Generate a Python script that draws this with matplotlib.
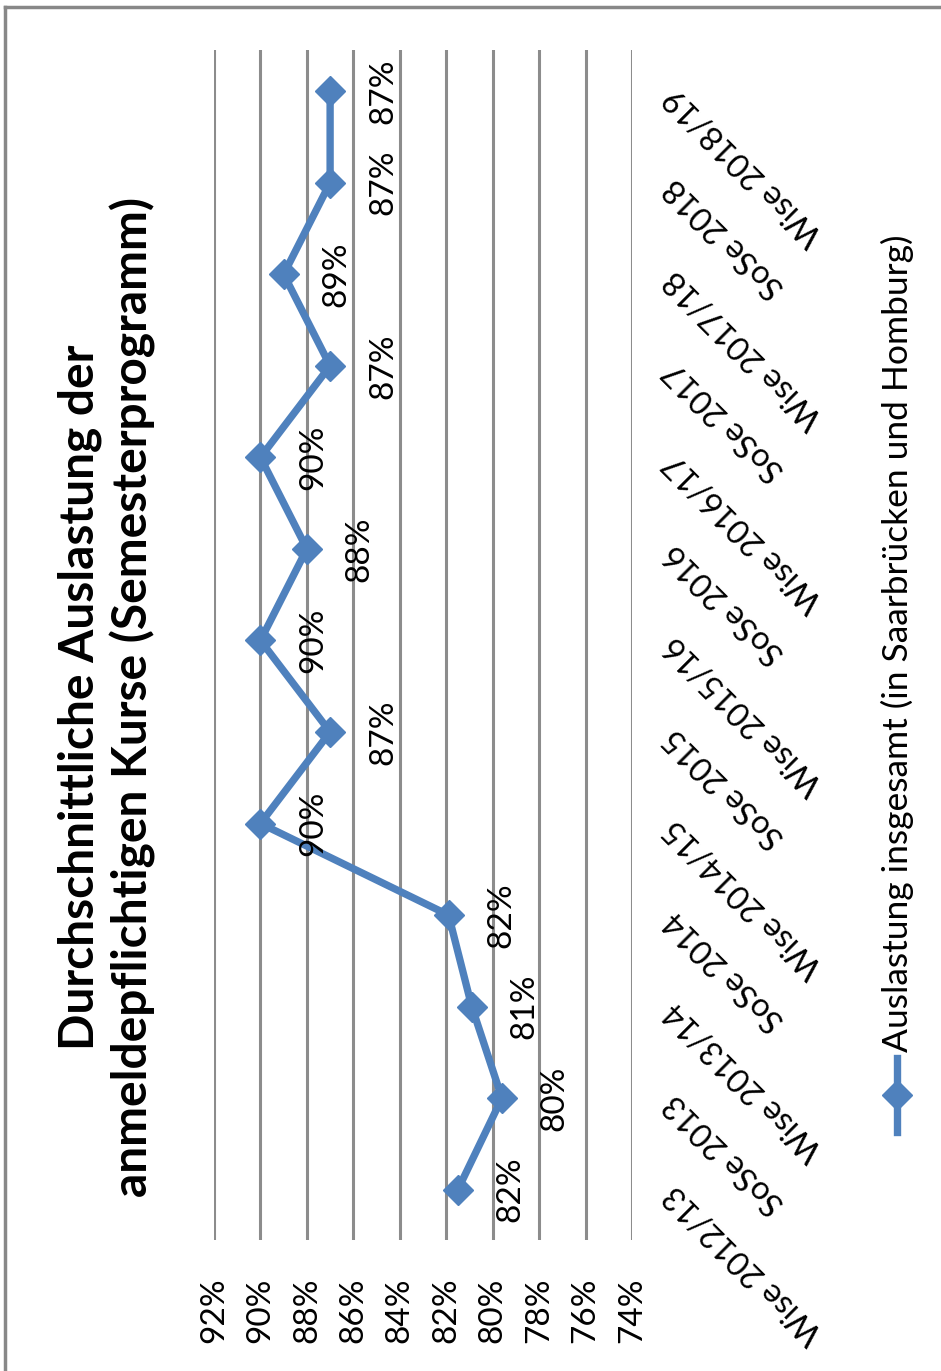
import matplotlib
matplotlib.use("Agg")
from matplotlib import pyplot as plt
from matplotlib.lines import Line2D
import matplotlib.transforms as mtransforms

semesters = ["Wise 2012/13", "SoSe 2013", "Wise 2013/14", "SoSe 2014",
             "Wise 2014/15", "SoSe 2015", "Wise 2015/16", "SoSe 2016",
             "Wise 2016/17", "SoSe 2017", "Wise 2017/18", "SoSe 2018",
             "Wise 2018/19"]
auslastung = [81.5, 79.6, 80.9, 81.9, 90.0, 87.0, 90.0, 88.0, 90.0, 87.0,
              89.0, 87.0, 87.0]
labels = ["82%", "80%", "81%", "82%", "90%", "87%", "90%", "88%", "90%",
          "87%", "89%", "87%", "87%"]
ticks = [92, 90, 88, 86, 84, 82, 80, 78, 76, 74]

plt.rcParams["font.family"] = ["Lato", "DejaVu Sans"]
blue = "#4F81BD"
grid_c = "#8C8C8C"

W, H = 941, 1371
fig = plt.figure(figsize=(W / 100, H / 100), dpi=100)

# chart is shown rotated: value axis runs left->right, categories bottom->top
x0, x1 = 214, 632
ytop, ybot = 50, 1240
ax = fig.add_axes([x0 / W, 1 - ybot / H, (x1 - x0) / W, (ybot - ytop) / H])
ax.set_xlim(92, 74)
ax.set_ylim(-0.55, 12.45)
for s in ax.spines.values():
    s.set_visible(False)
ax.set_xticks(ticks)
ax.set_xticklabels([f"{t}%" for t in ticks], rotation=90, fontsize=24)
ax.tick_params(axis="x", length=0, pad=27)
ax.set_yticks([])
for t in ticks:
    ax.axvline(t, color=grid_c, lw=2.2, zorder=0)

idx = list(range(len(semesters)))
ax.plot(auslastung, idx, color=blue, lw=5.3, marker="D", ms=15,
        solid_joinstyle="miter", zorder=3, clip_on=False)

for v, i, lab in zip(auslastung, idx, labels):
    ax.annotate(lab, (v, i), xytext=(38, 0), textcoords="offset points",
                rotation=90, ha="center", va="center", fontsize=24)

# category labels on the right, rotated like the source
trans = mtransforms.blended_transform_factory(ax.transAxes, ax.transData)
for i, s in enumerate(semesters):
    ax.text(1.09, i, s, transform=trans, rotation=135,
            rotation_mode="anchor", ha="right", va="center", fontsize=23.5)

# title
fig.text(107 / W, 1 - 697 / H,
         "Durchschnittliche Auslastung der\nanmeldepflichtigen Kurse (Semesterprogramm)",
         rotation=90, ha="center", va="center", fontsize=34.5,
         fontweight="bold", multialignment="center", linespacing=1.2)

# legend
lx = 897
fig.add_artist(Line2D([lx / W, lx / W], [1 - 1132 / H, 1 - 1058 / H],
                      transform=fig.transFigure, color=blue, lw=5.3))
fig.add_artist(Line2D([lx / W], [1 - 1095 / H], transform=fig.transFigure,
                      color=blue, marker="D", ms=15, lw=0))
fig.text(lx / W, 1 - 1052 / H,
         "Auslastung insgesamt (in Saarbrücken und Homburg)",
         rotation=90, rotation_mode="anchor", ha="left", va="center",
         fontsize=25.5)

# frame edges from the screenshot
fig.add_artist(Line2D([5 / W, 5 / W], [0, 1 - 7 / H],
                      transform=fig.transFigure, color="#888888", lw=2.5))
fig.add_artist(Line2D([5 / W, 1], [1 - 7 / H, 1 - 7 / H],
                      transform=fig.transFigure, color="#888888", lw=2.5))

fig.savefig("out.png", dpi=100)
